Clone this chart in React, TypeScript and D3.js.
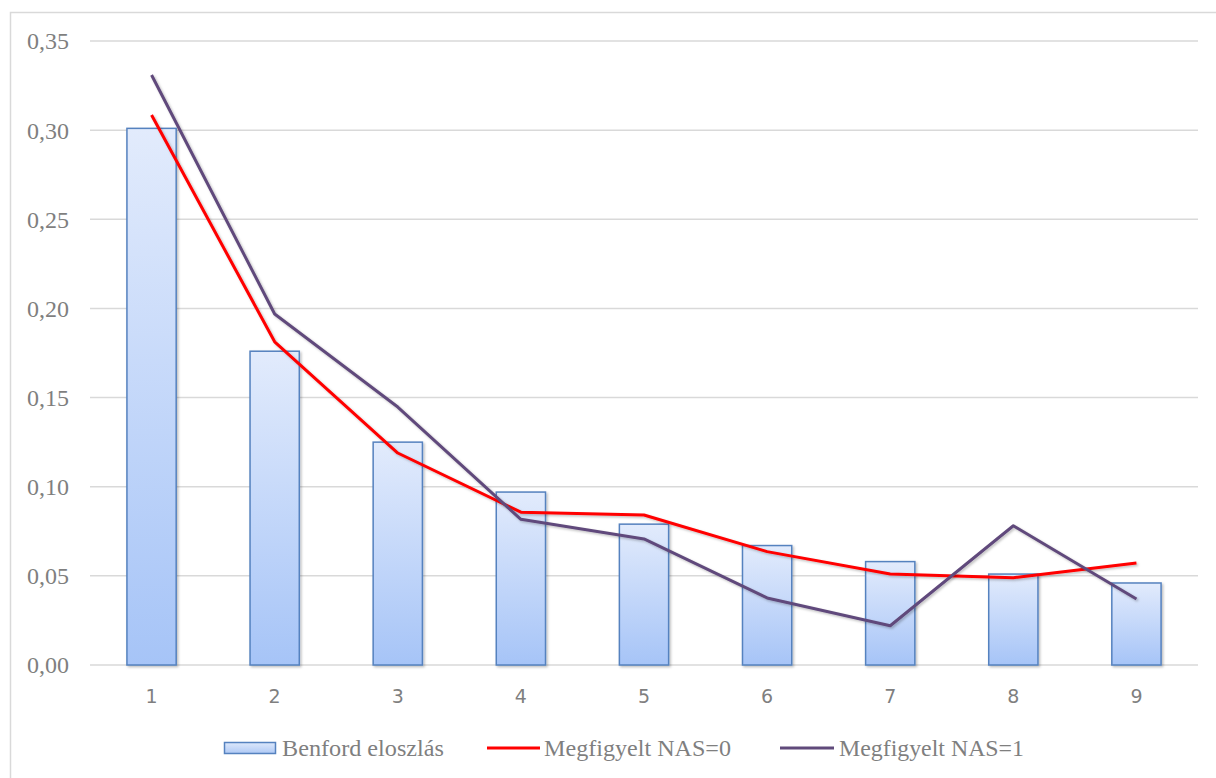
import React from "react";
import * as d3 from "d3";

// First-digit categories and observed/expected frequencies
const digits = ["1", "2", "3", "4", "5", "6", "7", "8", "9"];
const benford = [0.301, 0.176, 0.125, 0.097, 0.079, 0.067, 0.058, 0.051, 0.046];
const nas0 = [0.3085, 0.1813, 0.1189, 0.0857, 0.0841, 0.0636, 0.051, 0.049, 0.0572];
const nas1 = [0.3309, 0.1969, 0.1447, 0.0817, 0.0707, 0.0376, 0.022, 0.0781, 0.037];
const yTicks = [0, 0.05, 0.1, 0.15, 0.2, 0.25, 0.3, 0.35];
const legendLabels = ["Benford eloszlás", "Megfigyelt NAS=0", "Megfigyelt NAS=1"];

const W = 1216;
const H = 778;
const plot = { left: 90, right: 1198, top: 41, bottom: 665 };

const serif = '"Liberation Serif", "Times New Roman", serif';
const sans = '"DejaVu Sans", sans-serif';
const grey = "#7f7f7f";

export default function App() {
  const x = d3
    .scaleBand<string>()
    .domain(digits)
    .range([plot.left, plot.right])
    .paddingInner(0.6)
    .paddingOuter(0.3);
  const xc = d3.scalePoint<string>().domain(digits).range([plot.left, plot.right]).padding(0.5);
  const y = d3.scaleLinear().domain([0, 0.35]).range([plot.bottom, plot.top]);
  const fmt = (v: number) => v.toFixed(2).replace(".", ",");

  const line = d3
    .line<number>()
    .x((_, i) => xc(digits[i]) as number)
    .y((d) => y(d));

  return (
    <svg
      width={W}
      height={H}
      style={{ position: "absolute", left: 0, top: 0, background: "#fff" }}
    >
      <defs>
        <linearGradient id="barFill" x1="0" y1="0" x2="0" y2="1">
          <stop offset="0%" stopColor="#e2ebfc" />
          <stop offset="100%" stopColor="#a6c4f7" />
        </linearGradient>
        <linearGradient id="legendFill" x1="0" y1="0" x2="0" y2="1">
          <stop offset="0%" stopColor="#dde8fb" />
          <stop offset="100%" stopColor="#afc9f5" />
        </linearGradient>
        <filter id="shadow" x="-20%" y="-20%" width="140%" height="140%">
          <feDropShadow dx="1.5" dy="1.5" stdDeviation="1.2" floodColor="#000" floodOpacity="0.25" />
        </filter>
      </defs>

      {/* chart area border */}
      <rect x={10.5} y={12.5} width={W} height={H} fill="none" stroke="#d9d9d9" strokeWidth={1.5} />

      {/* horizontal gridlines and y labels */}
      {yTicks.map((t) => (
        <g key={t}>
          <line
            x1={plot.left}
            x2={plot.right}
            y1={y(t)}
            y2={y(t)}
            stroke="#d9d9d9"
            strokeWidth={1.5}
          />
          <text
            x={69}
            y={y(t)}
            dy="0.35em"
            textAnchor="end"
            style={{ fontFamily: serif, fontSize: 24 }}
            fill={grey}
            textLength={42}
            lengthAdjust="spacingAndGlyphs"
          >
            {fmt(t)}
          </text>
        </g>
      ))}

      {/* Benford bars */}
      {benford.map((v, i) => (
        <rect
          key={digits[i]}
          x={x(digits[i]) as number}
          y={y(v)}
          width={x.bandwidth()}
          height={y(0) - y(v)}
          fill="url(#barFill)"
          stroke="#5582bf"
          strokeWidth={1.5}
          filter="url(#shadow)"
        />
      ))}

      {/* observed frequency lines */}
      <path d={line(nas0) || ""} fill="none" stroke="#ff0000" strokeWidth={3} strokeLinejoin="round" filter="url(#shadow)" />
      <path d={line(nas1) || ""} fill="none" stroke="#604a7b" strokeWidth={3} strokeLinejoin="round" filter="url(#shadow)" />

      {/* x labels */}
      {digits.map((d) => (
        <text
          key={d}
          x={xc(d) as number}
          y={703}
          textAnchor="middle"
          style={{ fontFamily: sans, fontSize: 19 }}
          fill={grey}
        >
          {d}
        </text>
      ))}

      {/* legend */}
      <g style={{ fontFamily: serif, fontSize: 23 }} fill={grey}>
        <rect x={224.5} y={742.5} width={51} height={11} fill="url(#legendFill)" stroke="#5582bf" strokeWidth={1.5} />
        <text x={282} y={756} textLength={162} lengthAdjust="spacingAndGlyphs">{legendLabels[0]}</text>
        <line x1={487} x2={540} y1={748} y2={748} stroke="#ff0000" strokeWidth={3} />
        <text x={544} y={756} textLength={187} lengthAdjust="spacingAndGlyphs">{legendLabels[1]}</text>
        <line x1={780} x2={834} y1={748} y2={748} stroke="#604a7b" strokeWidth={3} />
        <text x={839} y={756} textLength={185} lengthAdjust="spacingAndGlyphs">{legendLabels[2]}</text>
      </g>
    </svg>
  );
}
